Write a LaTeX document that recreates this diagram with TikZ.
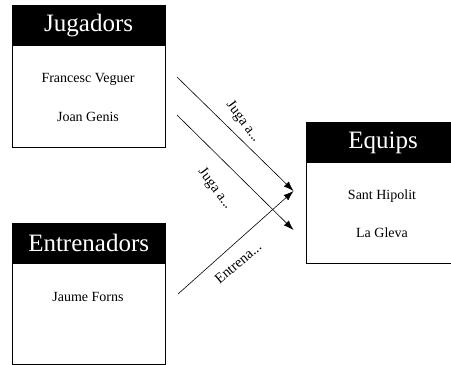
\documentclass[tikz,border=0pt]{standalone}
\usepackage{fontspec}
\setmainfont{Liberation Serif}
\usetikzlibrary{arrows.meta}
\tikzset{
  bodybox/.style={draw=black, line width=0.8pt, fill=white, minimum width=153.5pt, inner sep=0pt, anchor=north west},
  headbox/.style={draw=black, line width=0.8pt, fill=black, text=white, font=\fontsize{25}{28}\selectfont, minimum width=153.5pt, minimum height=40pt, inner sep=0pt, anchor=north west},
  item/.style={font=\fontsize{14}{16}\selectfont, inner sep=1pt},
  lbl/.style={font=\fontsize{14.5}{16}\selectfont, inner sep=1pt},
  conn/.style={line width=0.6pt, -{Latex[length=10pt,width=7pt]}}
}
\begin{document}
\begin{tikzpicture}[x=1pt,y=1pt]
\clip (0,0) rectangle (451,-365);
% Jugadors
\node[bodybox, minimum height=142pt] (jug) at (11.5,-5) {};
\node[headbox] (jugh) at (11.5,-5) {Jugadors};
\node[item] (fv) at (88,-79) {Francesc Veguer};
\node[item] (jg) at (88,-117) {Joan Genis};
% Entrenadors
\node[bodybox, minimum height=141pt] (ent) at (11.5,-222.5) {};
\node[headbox] (enth) at (11.5,-222.5) {Entrenadors};
\node[item] (jf) at (88,-297) {Jaume Forns};
% Equips
\node[bodybox, minimum height=141pt] (eq) at (306,-122) {};
\node[headbox] (eqh) at (306,-122) {Equips};
\node[item] (sh) at (382,-196) {Sant Hipolit};
\node[item] (lg) at (382,-233) {La Gleva};
% connector ends
\coordinate (s1) at (177,-77);
\coordinate (s2) at (177,-115);
\coordinate (s3) at (178,-294);
\coordinate (e1) at (293.5,-191);
\coordinate (e2) at (293.5,-230);
\draw[conn] (s1) -- (e1);
\draw[conn] (s2) -- (e2);
\draw[conn] (s3) -- (e1);
\node[lbl, rotate=-53] (l1) at (243,-122) {Juga a...};
\node[lbl, rotate=-53] (l2) at (215,-189) {Juga a...};
\node[lbl, rotate=40] (l3) at (238,-263) {Entrena...};
\end{tikzpicture}
\end{document}
